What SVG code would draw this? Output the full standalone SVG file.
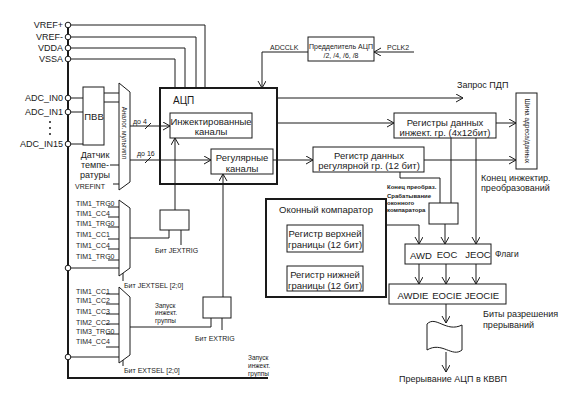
<svg xmlns="http://www.w3.org/2000/svg" width="578" height="404" viewBox="0 0 578 404">
<style>
text{font-family:"Liberation Sans",Arial,sans-serif;fill:#1a1a1a;dominant-baseline:central}
.l{font-size:9px}
.m{font-size:9.5px}
.t{font-size:9px}
.s{font-size:7px}
.xs{font-size:6.5px}
.b{font-size:6px;font-weight:bold}
.c{text-anchor:middle}
.e{text-anchor:end}
.box{fill:#fff;stroke:#1a1a1a;stroke-width:1}
.tk{fill:none;stroke:#1a1a1a;stroke-width:2}
.ln{fill:none;stroke:#1a1a1a;stroke-width:1}
.ar{fill:none;stroke:#1a1a1a;stroke-width:1;marker-end:url(#a)}
.pin{fill:#fff;stroke:#1a1a1a;stroke-width:1}
</style>
<defs>
<marker id="a" markerWidth="10" markerHeight="10" refX="7" refY="4" orient="auto" markerUnits="userSpaceOnUse">
<path d="M0,0 L7,4 L0,8" fill="none" stroke="#1a1a1a" stroke-width="1"/>
</marker>
</defs>
<rect width="578" height="404" fill="#fff"/>

<g id="connectors">
<path class="tk" d="M68,25 V378 H268"/>
<path class="ln" d="M71,25 H205 V88"/>
<path class="ln" d="M71,37 H196 V88"/>
<path class="ln" d="M71,48 H185 V88"/>
<path class="ln" d="M71,59 H175 V88"/>
<path class="ln" d="M71,98 H83"/>
<path class="ln" d="M71,112 H83"/>
<path class="ln" d="M71,144 H83"/>
<path class="ln" d="M104,93 H119 M104,102 H119"/>
<path class="ln" d="M110,165 H119 M113,184 H119"/>
<path class="ar" d="M130,126 H170"/>
<path class="ln" d="M145,129 L151,123"/>
<path class="ar" d="M130,160 H211"/>
<path class="ln" d="M145,163 L151,157"/>
<path class="ar" d="M175,210 V138"/>
<path class="ar" d="M223,297 V174"/>
<path class="ln" d="M130,238 H169 V230"/>
<path class="ln" d="M181,230 V245"/>
<path class="ln" d="M130,327 H211 V318"/>
<path class="ln" d="M222,318 V330"/>
<path class="ln" d="M71,268 H119 M71,357 H119"/>
<path class="ln" d="M123,273 V281 M123,360 V366"/>
<path class="ln" d="M108,207 H119 M108,217 H119 M108,227 H119 M108,239 H119 M108,249 H119 M108,260 H119"/>
<path class="ln" d="M106,294 H119 M106,304 H119 M106,314 H119 M106,324 H119 M106,334 H119 M106,347 H119"/>
<path class="ar" d="M308,52 H262 V88"/>
<path class="ar" d="M414,52 H374"/>
<path class="ar" d="M277,98 H463"/>
<path class="ar" d="M277,123 H394"/>
<path class="ar" d="M273,160 H313"/>
<path class="ar" d="M496,123 H516"/>
<path class="ar" d="M424,160 H516"/>
<path class="ln" d="M451,138 V203"/>
<path class="ar" d="M476,138 V244"/>
<path class="ln" d="M400,172 V178 H440 V203"/>
<path class="ar" d="M445,224 V244"/>
<path class="ar" d="M386,225 H419 V244"/>
<path class="ar" d="M419,264 V284"/>
<path class="ar" d="M446,264 V284"/>
<path class="ar" d="M476,264 V284"/>
<path class="ar" d="M446,304 V323"/>
<path class="ar" d="M446,352 V372"/>
</g>

<g id="pins">
<circle class="pin" cx="68" cy="25" r="2.8"/>
<circle class="pin" cx="68" cy="37" r="2.8"/>
<circle class="pin" cx="68" cy="48" r="2.8"/>
<circle class="pin" cx="68" cy="59" r="2.8"/>
<circle class="pin" cx="68" cy="98" r="2.8"/>
<circle class="pin" cx="68" cy="112" r="2.8"/>
<circle class="pin" cx="68" cy="144" r="2.8"/>
<circle class="pin" cx="68" cy="268" r="2.8"/>
<circle class="pin" cx="68" cy="357" r="2.8"/>
<text class="l e" x="63" y="25">VREF+</text>
<text class="l e" x="63" y="37">VREF-</text>
<text class="l e" x="63" y="48">VDDA</text>
<text class="l e" x="63" y="59">VSSA</text>
<text class="l e" x="63" y="98">ADC_IN0</text>
<text class="l e" x="63" y="112">ADC_IN1</text>
<text class="l e" x="63" y="144">ADC_IN15</text>
<circle cx="50" cy="122" r="1" fill="#1a1a1a"/>
<circle cx="50" cy="128" r="1" fill="#1a1a1a"/>
<circle cx="50" cy="134" r="1" fill="#1a1a1a"/>
</g>

<g id="pvv">
<rect class="box" x="83" y="87" width="21" height="58"/>
<text class="m c" x="94" y="116">ПВВ</text>
</g>

<g id="temp">
<text class="t c" x="95" y="155">Датчик</text>
<text class="t c" x="95" y="165">темпе-</text>
<text class="t c" x="95" y="175">ратуры</text>
<text class="s" x="75" y="186">VREFINT</text>
</g>

<g id="mux1">
<polygon class="box" points="119,83 130,92 130,182 119,190"/>
<text class="xs c" transform="translate(124.5,133) rotate(90)">Аналог. мультипл</text>
<text class="s" x="133" y="121">до 4</text>
<text class="s" x="137" y="153">до 16</text>
</g>

<g id="mux2">
<polygon class="box" points="119,200 130,208 130,268 119,276"/>
<text class="s" x="76" y="203">TIM1_TRG0</text>
<text class="s" x="76" y="213">TIM1_CC4</text>
<text class="s" x="76" y="223">TIM1_TRG0</text>
<text class="s" x="76" y="234">TIM1_CC1</text>
<text class="s" x="76" y="245">TIM1_CC4</text>
<text class="s" x="76" y="256">TIM1_TRG0</text>
<text class="s" x="124" y="285">Бит JEXTSEL [2;0]</text>
</g>

<g id="mux3">
<polygon class="box" points="119,287 130,297 130,355 119,363"/>
<text class="s" x="76" y="291">TIM1_CC1</text>
<text class="s" x="76" y="300">TIM1_CC2</text>
<text class="s" x="76" y="311">TIM1_CC3</text>
<text class="s" x="76" y="322">TIM2_CC2</text>
<text class="s" x="76" y="331">TIM3_TRG0</text>
<text class="s" x="76" y="341">TIM4_CC4</text>
<text class="s" x="124" y="370">Бит EXTSEL [2;0]</text>
<text class="xs" x="155" y="305">Запуск</text>
<text class="xs" x="155" y="312">инжект.</text>
<text class="xs" x="155" y="320">группы</text>
</g>

<g id="jextrig">
<rect class="box" x="160" y="210" width="29" height="20"/>
<text class="s" x="155" y="250">Бит JEXTRIG</text>
</g>

<g id="extrig">
<rect class="box" x="203" y="297" width="28" height="21"/>
<text class="s" x="195" y="338">Бит EXTRIG</text>
</g>

<g id="bottom-label">
<text class="xs" x="248" y="357">Запуск</text>
<text class="xs" x="248" y="365">инжект.</text>
<text class="xs" x="248" y="373">группы</text>
</g>

<g id="adc">
<rect class="tk" x="160" y="88" width="117" height="96" fill="none"/>
<text x="173" y="100" style="font-size:10px">АЦП</text>
</g>

<g id="injected">
<rect class="box" x="170" y="113" width="82" height="25"/>
<text class="m c" x="211" y="121">Инжектированные</text>
<text class="m c" x="211" y="131">каналы</text>
</g>

<g id="regular">
<rect class="box" x="211" y="149" width="62" height="25"/>
<text class="m c" x="242" y="157">Регулярные</text>
<text class="m c" x="242" y="168">каналы</text>
</g>

<g id="prescaler">
<rect class="box" x="308" y="37" width="66" height="24"/>
<text class="s c" x="341" y="46">Предделитель АЦП</text>
<text class="s c" x="341" y="55">/2, /4, /6, /8</text>
<text class="s" x="270" y="47">ADCCLK</text>
<text class="s" x="387" y="47">PCLK2</text>
</g>

<g id="dma">
<text class="l" x="457" y="85">Запрос ПДП</text>
</g>

<g id="inj-regs">
<rect class="box" x="394" y="113" width="102" height="25"/>
<text class="m c" x="445" y="122">Регистры данных</text>
<text class="m c" x="445" y="132">инжект. гр. (4x12бит)</text>
</g>

<g id="reg-reg">
<rect class="box" x="313" y="147" width="111" height="25"/>
<text class="m c" x="369" y="155">Регистр данных</text>
<text class="m c" x="369" y="165">регулярной гр. (12 бит)</text>
</g>

<g id="bus">
<rect class="box" x="516" y="93" width="21" height="76"/>
<text class="xs c" transform="translate(527,131) rotate(90)">Шина адреса/данных</text>
</g>

<g id="inj-end">
<text class="l" x="481" y="178">Конец инжектир.</text>
<text class="l" x="481" y="188">преобразований</text>
</g>

<g id="eoc-box">
<rect class="box" x="429" y="203" width="29" height="21"/>
<text class="b" x="387" y="187">Конец преобраз.</text>
<text class="b" x="387" y="196">Срабатывание</text>
<text class="b" x="387" y="203">оконного</text>
<text class="b" x="387" y="210">компаратора</text>
</g>

<g id="comparator">
<rect class="tk" x="266" y="199" width="120" height="98" fill="none"/>
<text class="m c" x="326" y="209">Оконный компаратор</text>
<rect class="box" x="287" y="225" width="76" height="27"/>
<text class="m c" x="325" y="233">Регистр верхней</text>
<text class="m c" x="325" y="244">границы (12 бит)</text>
<rect class="box" x="287" y="266" width="76" height="25"/>
<text class="m c" x="325" y="274">Регистр нижней</text>
<text class="m c" x="325" y="285">границы (12 бит)</text>
</g>

<g id="flags">
<rect class="box" x="405" y="244" width="86" height="20"/>
<text class="m c" x="421" y="255">AWD</text>
<text class="m c" x="447" y="254">EOC</text>
<text class="m c" x="478" y="254">JEOC</text>
<text x="495" y="254" style="font-size:8.5px">Флаги</text>
</g>

<g id="enables">
<rect class="box" x="389" y="284" width="117" height="20"/>
<text class="m c" x="413" y="295">AWDIE</text>
<text class="m c" x="447" y="295">EOCIE</text>
<text class="m c" x="482" y="295">JEOCIE</text>
<text class="l" x="483" y="314">Биты разрешения</text>
<text class="l" x="483" y="325">прерываний</text>
</g>

<g id="interrupt">
<path class="box" d="M427,324 C436,315 446,333 462,325 L462,350 C452,358 442,341 427,350 Z"/>
<text class="l c" x="453" y="379">Прерывание АЦП в КВВП</text>
</g>
</svg>
